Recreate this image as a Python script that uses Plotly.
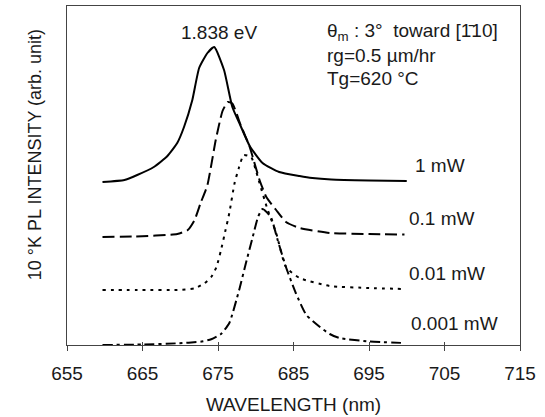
import plotly.graph_objects as go

# ---- data ----
wl_1mW = [659.7, 662.6, 664.3, 666.5, 668.3, 669.6, 670.5, 671.6, 672.5, 673.6, 674.5,
          675.8, 676.9, 678.0, 679.2, 680.9, 683.1, 685.8, 687.5, 690.0, 695.0, 700.0]
pl_1mW = [163, 165, 170, 178, 189, 202, 218, 245, 277, 292, 298,
          275, 238, 219, 199, 182, 173, 169, 167, 165.5, 164.5, 164]

wl_01mW = [659.7, 664.0, 669.6, 671.0, 671.9, 672.7, 673.6, 674.7, 675.6, 676.3, 676.9,
           678.0, 679.2, 680.5, 681.4, 682.7, 684.0, 685.8, 689.8, 695.0, 699.7]
pl_01mW = [108, 108.5, 111, 115, 125, 142, 160, 205, 234, 243, 241.5,
           220, 198, 165, 148, 135, 123, 117, 112, 111, 110.5]

wl_001mW = [659.7, 665.0, 669.6, 671.9, 673.2, 674.1, 674.8, 675.4, 676.0, 676.5, 677.2,
            677.8, 678.4, 679.4, 680.0, 680.5, 681.5, 682.7, 684.0, 685.8, 689.8, 695.0, 699.7]
pl_001mW = [55, 55, 55, 56.7, 61.7, 68, 78, 95, 115, 132, 162,
            178, 190, 188, 175, 162, 137, 112, 78, 67, 59, 57, 56]

wl_0001mW = [659.7, 665.0, 669.6, 672.7, 674.1, 675.4, 676.5, 677.8, 678.7, 679.6, 680.3,
             680.9, 682.0, 682.9, 684.0, 685.3, 686.7, 688.5, 689.8, 691.1, 695.0, 699.7]
pl_0001mW = [0, 0.5, 1.7, 3.3, 5.7, 11, 22, 55, 82, 108, 128,
             136, 128, 105, 78, 52, 30, 18, 11, 7, 3.5, 2]

x_ticks = [655, 665, 675, 685, 695, 705, 715]
series_names = ["1 mW", "0.1 mW", "0.01 mW", "0.001 mW"]
label_pos = [(700.8, 180), (700.0, 127), (700.0, 72), (700.3, 22)]

FONT = "Liberation Sans, Arial, sans-serif"
TXT = "#1a1a1a"
FS = 19

fig = go.Figure()
styles = ["solid", "12px,5px", "3px,5px", "10px,4px,3px,4px"]
data = [(wl_1mW, pl_1mW), (wl_01mW, pl_01mW), (wl_001mW, pl_001mW), (wl_0001mW, pl_0001mW)]
for (wx, wy), dash, name in zip(data, styles, series_names):
    fig.add_trace(go.Scatter(x=wx, y=wy, mode="lines", name=name,
                             line=dict(color="black", width=2, dash=dash,
                                       shape="spline", smoothing=0.5),
                             showlegend=False))

# dummy trace for inner tick axis
fig.add_trace(go.Scatter(x=[None], y=[None], xaxis="x2", showlegend=False, hoverinfo="skip"))

for name, (lx, ly) in zip(series_names, label_pos):
    fig.add_annotation(x=lx, y=ly, text=name, showarrow=False, xanchor="left", yanchor="middle",
                       font=dict(family=FONT, size=FS, color=TXT))

fig.add_annotation(x=675.1, y=312.5, text="1.838 eV", showarrow=False, xanchor="center",
                   yanchor="middle", font=dict(family=FONT, size=FS, color=TXT))
block = ["θ<sub>m</sub> : 3°  toward [1\u030410]", "rg=0.5 µm/hr", "Tg=620 °C"]
for i, t in enumerate(block):
    fig.add_annotation(x=689.2, y=313 - 23 * i, text=t, showarrow=False, xanchor="left",
                       yanchor="middle", font=dict(family=FONT, size=FS, color=TXT))

fig.add_annotation(xref="paper", yref="paper", x=-0.0706, y=0.56,
                   text="10 °K PL INTENSITY (arb. unit)", textangle=-90, showarrow=False,
                   xanchor="center", yanchor="middle", font=dict(family=FONT, size=18, color=TXT))

fig.update_layout(
    width=545, height=417,
    margin=dict(l=67, r=25, t=6, b=72),
    paper_bgcolor="white", plot_bgcolor="white",
    font=dict(family=FONT, size=FS, color=TXT),
    xaxis=dict(range=[655, 715], tickvals=x_ticks, ticktext=[str(v) for v in x_ticks],
               ticks="outside", ticklen=5, tickcolor="#444", showline=True, linecolor="#444",
               linewidth=1, mirror=True, showgrid=False, zeroline=False,
               ticklabelstandoff=6, tickfont=dict(family=FONT, size=FS, color=TXT),
               title=dict(text="WAVELENGTH (nm)", standoff=14,
                          font=dict(family=FONT, size=FS, color=TXT))),
    xaxis2=dict(range=[655, 715], tickvals=x_ticks, overlaying="x", anchor="y", side="bottom",
                ticks="inside", ticklen=3, tickcolor="#444", showticklabels=False,
                showline=False, showgrid=False, zeroline=False),
    yaxis=dict(range=[0, 339], showticklabels=False, ticks="", showline=True, linecolor="#444",
               linewidth=1, mirror=True, showgrid=False, zeroline=False),
)

fig.write_html("out.html")
